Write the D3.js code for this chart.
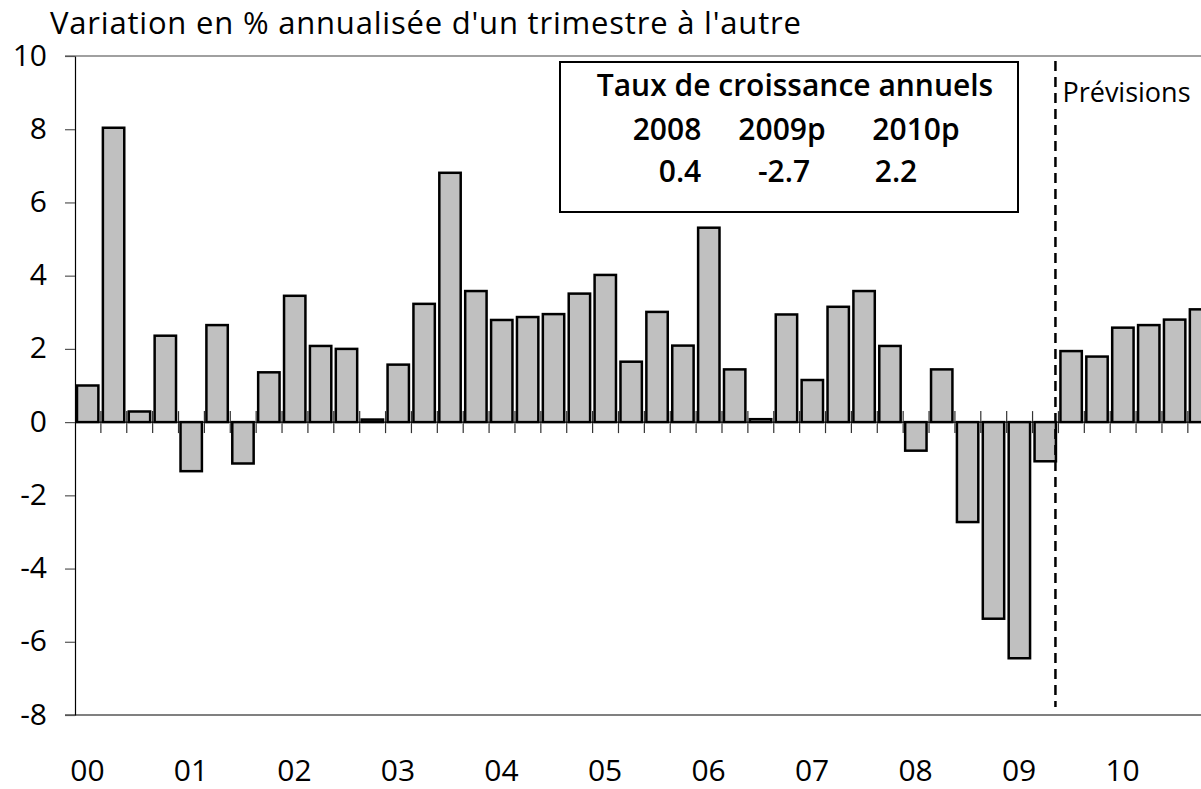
<!DOCTYPE html>
<html>
<head>
<meta charset="utf-8">
<script src="https://cdn.jsdelivr.net/npm/d3@7"></script>
<style>
  body { margin: 0; background: #fff; }
  svg { display: block; font-family: "Open Sans", "DejaVu Sans", sans-serif; }
</style>
</head>
<body>
<script>
// croissance trimestrielle annualisee, 2000T1 - 2010T4
var years = ["00", "01", "02", "03", "04", "05", "06", "07", "08", "09", "10"];
var quarters = ["T1", "T2", "T3", "T4"];
var growth = [
  1.0, 8.04, 0.29, 2.36,
  -1.34, 2.65, -1.13, 1.36,
  3.45, 2.08, 2.0, 0.07,
  1.57, 3.23, 6.81, 3.58,
  2.79, 2.87, 2.95, 3.51,
  4.02, 1.65, 3.01, 2.09,
  5.31, 1.44, 0.08, 2.94,
  1.15, 3.15, 3.58, 2.08,
  -0.78, 1.44, -2.73, -5.37,
  -6.45, -1.07, 1.94, 1.79,
  2.58, 2.65, 2.8, 3.08
];
var yTicks = [-8, -6, -4, -2, 0, 2, 4, 6, 8, 10];
var forecastStart = "09T3";

var tableTitle = "Taux de croissance annuels";
var tableYears = ["2008", "2009p", "2010p"];
var tableValues = [0.4, -2.7, 2.2];

var width = 1201, height = 789;
var left = 75, band = 25.88;

// tiret simple pour les negatifs, comme dans l'original
var fmt = d3.formatLocale({ decimal: ".", thousands: "", grouping: [3], currency: ["", ""], minus: "-" });

var categories = years.flatMap(function(y) {
  return quarters.map(function(q) { return y + q; });
});
var data = growth.map(function(v, i) { return { cat: categories[i], value: v }; });

var x = d3.scaleBand()
    .domain(categories)
    .range([left, left + categories.length * band]);

var y = d3.scaleLinear()
    .domain([-8, 10])
    .range([715, 56]);

var svg = d3.select("body").append("svg")
    .attr("width", width)
    .attr("height", height);

// titre
svg.append("text")
    .attr("x", 50)
    .attr("y", 34)
    .attr("font-size", 31)
    .attr("letter-spacing", 0.8)
    .attr("fill", "#000")
    .text("Variation en % annualisée d'un trimestre à l'autre");

// lignes haut / bas
svg.append("line")
    .attr("x1", left - 10).attr("x2", width)
    .attr("y1", y(10)).attr("y2", y(10))
    .attr("stroke", "#808080").attr("stroke-width", 1.5);
svg.append("line")
    .attr("x1", left - 10).attr("x2", width)
    .attr("y1", y(-8)).attr("y2", y(-8))
    .attr("stroke", "#808080").attr("stroke-width", 2);

// axe y
var yAxis = svg.append("g")
    .attr("transform", "translate(" + left + ",0)")
    .call(d3.axisLeft(y).tickValues(yTicks).tickFormat(fmt.format("d"))
      .tickSize(10).tickPadding(18).tickSizeOuter(0));
yAxis.select(".domain").attr("stroke", "#000").attr("stroke-width", 1.2);
yAxis.selectAll(".tick line").attr("stroke", "#555").attr("stroke-width", 1.2);
yAxis.selectAll(".tick text")
    .attr("font-size", 30)
    .attr("font-family", "Open Sans, sans-serif")
    .attr("fill", "#000")
    .attr("dy", "0.3em");

// axe des categories a zero
var zeroAxis = svg.append("g")
    .attr("transform", "translate(0," + y(0) + ")");
zeroAxis.selectAll("line.tick")
    .data(categories.slice(1))
  .enter().append("line")
    .attr("class", "tick")
    .attr("x1", function(d) { return x(d); })
    .attr("x2", function(d) { return x(d); })
    .attr("y1", -11).attr("y2", 11)
    .attr("stroke", "#333").attr("stroke-width", 1.2);
zeroAxis.append("line")
    .attr("x1", left).attr("x2", width)
    .attr("stroke", "#000").attr("stroke-width", 1.2);

// barres
svg.selectAll(".bar")
    .data(data)
  .enter().append("rect")
    .attr("class", "bar")
    .attr("x", function(d) { return x(d.cat) + 2; })
    .attr("width", x.bandwidth() - 4.5)
    .attr("y", function(d) { return y(Math.max(0, d.value)); })
    .attr("height", function(d) { return Math.abs(y(d.value) - y(0)); })
    .attr("fill", "#c0c0c0")
    .attr("stroke", "#000")
    .attr("stroke-width", 2.5);

// etiquettes des annees
svg.selectAll(".year")
    .data(years)
  .enter().append("text")
    .attr("class", "year")
    .attr("x", function(d) { return x(d + "T1") + x.bandwidth() / 2 - 0.5; })
    .attr("y", 781)
    .attr("text-anchor", "middle")
    .attr("font-size", 30)
    .attr("fill", "#000")
    .text(function(d) { return d; });

// separation previsions
var fx = x(forecastStart) - 3;
svg.append("line")
    .attr("x1", fx).attr("x2", fx)
    .attr("y1", 61).attr("y2", 707)
    .attr("stroke", "#000")
    .attr("stroke-width", 2.5)
    .attr("stroke-dasharray", "10,6");
svg.append("text")
    .attr("x", fx + 7)
    .attr("y", 102)
    .attr("font-size", 27)
    .attr("fill", "#000")
    .text("Prévisions");

// encadre
var box = svg.append("g");
box.append("rect")
    .attr("x", 560).attr("y", 62)
    .attr("width", 458).attr("height", 150)
    .attr("fill", "#fff")
    .attr("stroke", "#000")
    .attr("stroke-width", 2);
box.append("text")
    .attr("x", 795).attr("y", 96)
    .attr("text-anchor", "middle")
    .attr("font-size", 30)
    .attr("font-weight", 600)
    .text(tableTitle);
var colX = [667, 782, 916];
box.selectAll(".ty")
    .data(tableYears)
  .enter().append("text")
    .attr("class", "ty")
    .attr("x", function(d, i) { return colX[i]; })
    .attr("y", 140)
    .attr("text-anchor", "middle")
    .attr("font-size", 30)
    .attr("font-weight", 600)
    .text(function(d) { return d; });
box.selectAll(".tv")
    .data(tableValues)
  .enter().append("text")
    .attr("class", "tv")
    .attr("x", function(d, i) { return colX[i] + [13, 2, -20][i]; })
    .attr("y", 182)
    .attr("text-anchor", "middle")
    .attr("font-size", 30)
    .attr("font-weight", 600)
    .text(function(d) { return fmt.format(".1f")(d); });
</script>
</body>
</html>
